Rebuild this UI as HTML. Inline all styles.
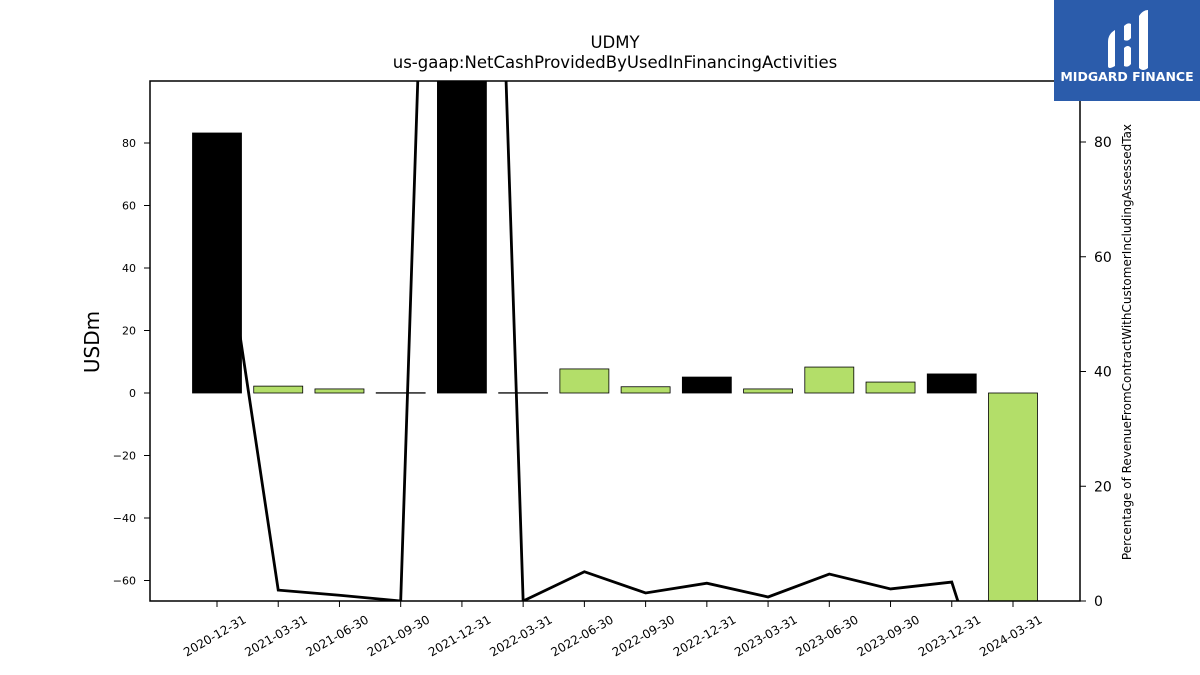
<!DOCTYPE html>
<html style="overflow:hidden;width:1200px;height:675px"><head><meta charset="utf-8"><style>
html,body{margin:0;padding:0}
body{background:#fff;width:1200px;height:675px;overflow:hidden;font-family:"Liberation Sans","DejaVu Sans",sans-serif}
svg{display:block}
svg text{font-family:"DejaVu Sans","Liberation Sans",sans-serif}
</style></head><body>
<svg id="chart" width="1200" height="675" xmlns="http://www.w3.org/2000/svg">
<text x="615" y="48" text-anchor="middle" font-size="16.5">UDMY</text>
<text x="615" y="68" text-anchor="middle" font-size="16.5">us-gaap:NetCashProvidedByUsedInFinancingActivities</text>
<defs><clipPath id="plotclip"><rect x="150" y="81" width="930" height="520"/></clipPath></defs>
<g id="bars" clip-path="url(#plotclip)"></g>
<g id="line" clip-path="url(#plotclip)"></g>
<rect x="150" y="81" width="930" height="520" fill="none" stroke="#000" stroke-width="1.5"/>
<g id="axes"></g>
<text x="99" y="342" text-anchor="middle" font-size="20" transform="rotate(-90 99 342)">USDm</text>
<text x="1131" y="342" text-anchor="middle" font-size="12" transform="rotate(-90 1131 342)">Percentage of RevenueFromContractWithCustomerIncludingAssessedTax</text>
<g>
<rect x="1054" y="0" width="146" height="101" fill="#2b5cab"/>
<path d="M1108 42 q0-8 7-12 v36 q-7 4-7 0 z M1124 26 q4-4 7-2 v14 q-3 4-7 2 z M1124 48 q4-4 7 0 v16 q-3 4-7 2 z M1139 16 q4-6 9-6 v58 q-5 4-9 0 z" fill="#fff"/>
<text x="1127" y="81" text-anchor="middle" font-size="12.5" font-weight="bold" fill="#fff" font-family="Liberation Sans">MIDGARD FINANCE</text>
</g>
</svg>
<script>
const categories=["2020-12-31","2021-03-31","2021-06-30","2021-09-30","2021-12-31","2022-03-31","2022-06-30","2022-09-30","2022-12-31","2023-03-31","2023-06-30","2023-09-30","2023-12-31","2024-03-31"];
const barValues=[83.2,2.2,1.3,0.1,150,0.1,7.7,2.0,5.1,1.3,8.3,3.5,6.1,-100];
const barHighlight=[1,0,0,0,1,1,0,0,1,0,0,0,1,0];
const pctValues=[73,1.9,1.0,0,325,0,5.1,1.4,3.1,0.7,4.7,2.1,3.3,-30];
const leftTicks=[-60,-40,-20,0,20,40,60,80];
const rightTicks=[0,20,40,60,80];
const NS="http://www.w3.org/2000/svg";
const X0=217,DX=61.23,BW=49;
const xScale=i=>X0+i*DX;
const yLeft=v=>393-v*3.125;
const yRight=v=>601-v*5.7375;
function mk(tag,attrs,parent){const e=document.createElementNS(NS,tag);for(const k in attrs)e.setAttribute(k,attrs[k]);parent.appendChild(e);return e;}
const bars=document.getElementById('bars'),line=document.getElementById('line'),axes=document.getElementById('axes');
barValues.forEach((v,i)=>{
 const y0=yLeft(0),y1=yLeft(v);
 const r=mk('rect',{x:xScale(i)-BW/2,y:Math.min(y0,y1),width:BW,height:Math.max(Math.abs(y1-y0),0.5),fill:barHighlight[i]?'#000':'#b3de69',stroke:'#000','stroke-width':0.8},bars);
 
 
});
const pts=pctValues.map((v,i)=>xScale(i)+','+yRight(v)).join(' ');
const pl=mk('polyline',{points:pts,fill:'none',stroke:'#000','stroke-width':2.8,'stroke-linejoin':'miter'},line);


leftTicks.forEach(t=>{
 const y=yLeft(t);
 const l=mk('line',{x1:144,x2:150,y1:y,y2:y,stroke:'#000'},axes);
 
 
 const tx=mk('text',{x:136,y:y+4,'text-anchor':'end','font-size':11},axes);
 tx.textContent=t<0?'\u2212'+Math.abs(t):String(t);
 
 
});
rightTicks.forEach(t=>{
 const y=yRight(t);
 const l=mk('line',{x1:1080,x2:1086,y1:y,y2:y,stroke:'#000'},axes);
 
 
 const tx=mk('text',{x:1094,y:y+5,'font-size':14},axes);
 tx.textContent=String(t);
 
 
});
categories.forEach((c,i)=>{
 const x=xScale(i);
 const l=mk('line',{x1:x,x2:x,y1:601,y2:607,stroke:'#000'},axes);
 
 
 const ax=x+30,ay=622;
 const tx=mk('text',{x:ax,y:ay,'text-anchor':'end','font-size':12,transform:`rotate(-30 ${ax} ${ay})`},axes);
 tx.textContent=c;
 
 
});
</script>
</body></html>
